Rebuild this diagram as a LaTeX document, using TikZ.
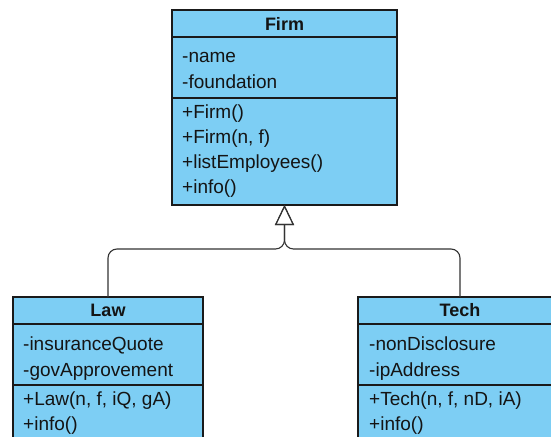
\documentclass[tikz,border=0pt]{standalone}
\usepackage{fontspec}
\setmainfont{Liberation Sans}
\usetikzlibrary{arrows.meta}
\definecolor{boxfill}{RGB}{125,206,244}
\definecolor{boxline}{RGB}{26,26,26}
\definecolor{connline}{RGB}{51,51,51}
\definecolor{txt}{RGB}{20,20,20}
\tikzset{
  compart/.style={draw=boxline, fill=boxfill, line width=1.2pt, minimum width=#1, anchor=north west, inner sep=0pt, outer sep=0pt},
  hdr/.style={font=\fontsize{18}{20}\selectfont\bfseries, text=txt, inner sep=0pt},
  item/.style={font=\fontsize{19}{22}\selectfont, text=txt, anchor=base west, inner sep=0pt},
  conn/.style={draw=connline, line width=1.1pt, rounded corners=9pt},
  gen/.style={-{Triangle[open, length=20pt, width=19pt, line width=1.1pt]}},
}
\begin{document}
\begin{tikzpicture}[x=1pt,y=-1pt]
\useasboundingbox (0,0) rectangle (551,436);
\clip (0,0) rectangle (551,436);
\fill[white] (0,0) rectangle (551,436);

% Firm
\node[compart=225pt, minimum height=27pt] (firmhead) at (172,10) {};
\node[compart=225pt, minimum height=61pt] (firmattr) at (172,37) {};
\node[compart=225pt, minimum height=107pt] (firmmeth) at (172,98) {};
\node[hdr] (firmtitle) at (firmhead.center) {Firm};
\node[item] (f1) at (182,63) {-name};
\node[item] (f2) at (182,88) {-foundation};
\node[item] (f3) at (182,118) {+Firm()};
\node[item] (f4) at (182,143) {+Firm(n, f)};
\node[item] (f5) at (182,168) {+listEmployees()};
\node[item] (f6) at (182,193) {+info()};

% Law
\node[compart=190pt, minimum height=27pt] (lawhead) at (13,297) {};
\node[compart=190pt, minimum height=61pt] (lawattr) at (13,324) {};
\node[compart=190pt, minimum height=80pt] (lawmeth) at (13,385) {};
\node[hdr] (lawtitle) at (lawhead.center) {Law};
\node[item] (l1) at (23,350) {-insuranceQuote};
\node[item] (l2) at (23,376) {-govApprovement};
\node[item] (l3) at (23,405) {+Law(n, f, iQ, gA)};
\node[item] (l4) at (23,430) {+info()};

% Tech
\node[compart=204pt, minimum height=27pt] (techhead) at (358,297) {};
\node[compart=204pt, minimum height=61pt] (techattr) at (358,324) {};
\node[compart=204pt, minimum height=80pt] (techmeth) at (358,385) {};
\node[hdr] (techtitle) at (techhead.center) {Tech};
\node[item] (t1) at (369,350) {-nonDisclosure};
\node[item] (t2) at (369,376) {-ipAddress};
\node[item] (t3) at (369,405) {+Tech(n, f, nD, iA)};
\node[item] (t4) at (369,430) {+info()};

% generalisation connectors
\coordinate (junc) at (firmmeth.south |- 0,249);
\draw[conn, gen] (lawhead.north) |- (junc) -- (firmmeth.south);
\draw[conn, gen] (techhead.north) |- (junc) -- (firmmeth.south);
\end{tikzpicture}
\end{document}
